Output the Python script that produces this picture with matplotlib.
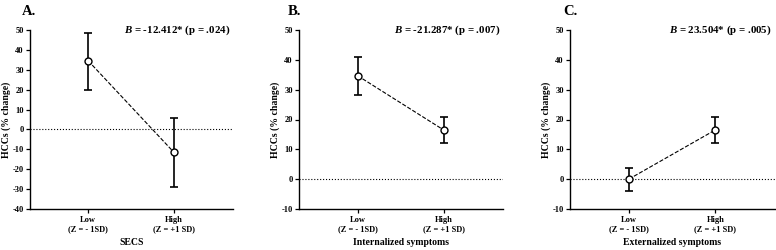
import matplotlib
matplotlib.use("Agg")
import matplotlib.pyplot as plt

plt.rcParams["font.family"] = ["Liberation Serif", "DejaVu Serif"]
plt.rcParams["font.weight"] = "bold"
plt.rcParams["axes.unicode_minus"] = False
plt.rcParams["mathtext.fontset"] = "custom"
plt.rcParams["mathtext.bfit"] = "Liberation Serif:italic:bold"
plt.rcParams["mathtext.it"] = "Liberation Serif:italic:bold"

# valores
niveis = ["Low\n(Z = - 1SD)", "High\n(Z = +1 SD)"]
paineis = ["A.", "B.", "C."]
rotulos_x = ["SECS", "Internalized symptoms", "Externalized symptoms"]
coeficientes = ["-12.412", "-21.287", "23.504"]
valores_p = [".024", ".007", ".005"]

media_a = [34.5, -11.5]
inf_a = [20.0, -29.0]
sup_a = [48.5, 6.0]

media_b = [34.7, 16.5]
inf_b = [28.3, 12.0]
sup_b = [41.0, 21.0]

media_c = [0.0, 16.5]
inf_c = [-3.8, 12.0]
sup_c = [3.7, 20.8]

limites_y = [(-40, 50), (-10, 50), (-10, 50)]
ticks_y = [range(-40, 51, 10), range(-10, 51, 10), range(-10, 51, 10)]

fig = plt.figure(figsize=(7.76, 2.5), dpi=100)
posicoes = [
    [30 / 776, 41 / 250, 203 / 776, 179 / 250],
    [299 / 776, 41 / 250, 204 / 776, 179 / 250],
    [570 / 776, 41 / 250, 205 / 776, 179 / 250],
]
pos_titulo = [22 / 776, 288 / 776, 563 / 776]

dados = [(media_a, inf_a, sup_a), (media_b, inf_b, sup_b), (media_c, inf_c, sup_c)]

for i, (media, inf, sup) in enumerate(dados):
    ax = fig.add_axes(posicoes[i])
    x = [0, 1]
    erro = [[m - l for m, l in zip(media, inf)], [s - m for m, s in zip(media, sup)]]
    ax.axhline(0, color="black", linestyle=":", linewidth=0.8, zorder=1)
    ax.errorbar(x, media, yerr=erro, fmt="none", ecolor="black", elinewidth=1.2,
                capsize=3, capthick=1.2, zorder=2)
    ax.plot(x, media, linestyle="--", color="black", linewidth=0.8,
            marker="o", markersize=5, markerfacecolor="white",
            markeredgecolor="black", markeredgewidth=1.0, zorder=3)

    ax.set_xlim(-0.68, 1.69)
    ax.set_ylim(*limites_y[i])
    ax.set_yticks(list(ticks_y[i]))
    ax.set_xticks(x)
    ax.set_xticklabels(niveis, fontsize=6, fontweight="bold")
    ax.tick_params(axis="y", labelsize=6, length=3, width=0.9, pad=1.5)
    ax.tick_params(axis="x", length=3, width=0.9, pad=2)
    for lab in ax.get_yticklabels():
        lab.set_fontweight("bold")
    ax.spines["top"].set_visible(False)
    ax.spines["right"].set_visible(False)
    ax.spines["left"].set_linewidth(1.0)
    ax.spines["bottom"].set_linewidth(1.0)

    ax.set_ylabel("HCCs (% change)", fontsize=7, fontweight="bold", labelpad=1)
    ax.set_xlabel(rotulos_x[i], fontsize=7, fontweight="bold", labelpad=3.5)

    ax.text(0.985, 1.0, r"$\mathit{B}$" + f" = {coeficientes[i]}* (p = {valores_p[i]})",
            transform=ax.transAxes, ha="right", va="center", fontsize=7.8,
            fontweight="bold")
    fig.text(pos_titulo[i], 0.955, paineis[i], fontsize=10.5,
             fontweight="bold", ha="left", va="center")

fig.savefig("out.png", dpi=100)
